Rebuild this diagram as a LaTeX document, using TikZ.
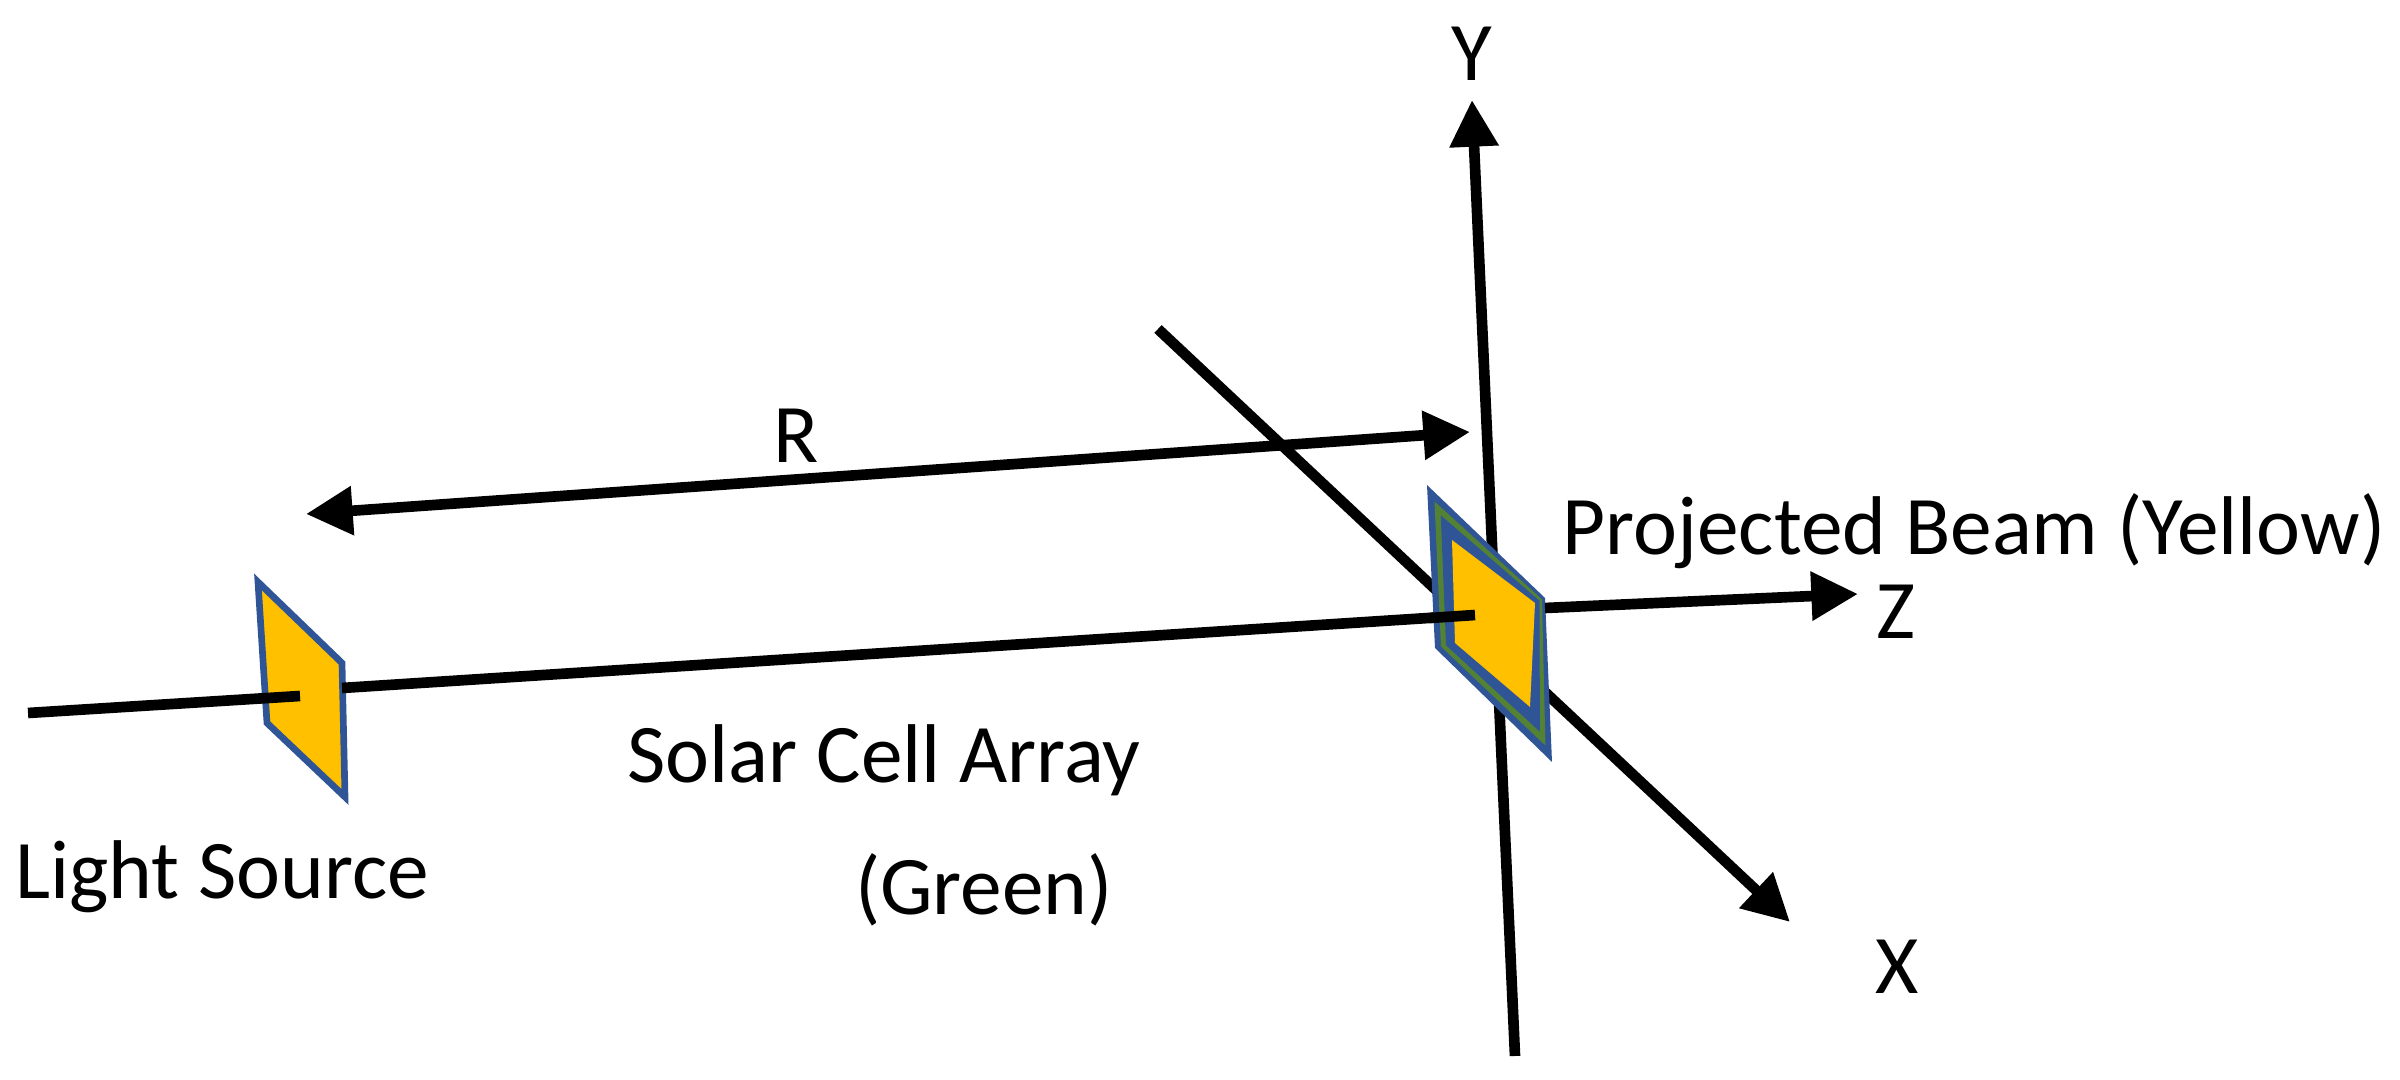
\documentclass[tikz,border=0pt]{standalone}
\usepackage{fontspec}
\setmainfont{Carlito}
\usetikzlibrary{arrows.meta,calc}
\definecolor{pblue}{RGB}{47,85,151}
\definecolor{pgreen}{RGB}{84,130,53}
\definecolor{pyel}{RGB}{255,192,0}
\begin{document}
\begin{tikzpicture}[x=0.3pt,y=-0.3pt,
  axis/.style={line width=3.2pt,black},
  arr/.style={axis,-{Triangle[length=14pt,width=14pt]}},
  lbl/.style={font=\fontsize{25}{30}\selectfont,inner sep=0pt}]
\useasboundingbox (0,0) rectangle (2400,1080);
% Y and X axes (behind panel)
\coordinate (ybot) at (1515,1056);
\coordinate (ytop) at (1472,100);
\coordinate (xs) at (1158,329);
\coordinate (xe) at (1790,922);
\draw[arr] (ybot) -- (ytop);
\draw[arr] (xs) -- (xe);
% R arrow
\coordinate (ra) at (306,514);
\coordinate (rb) at (1470,432);
\draw[axis,{Triangle[length=14pt,width=14pt]}-{Triangle[length=14pt,width=14pt]}] (ra) -- (rb);
% beam line
\coordinate (l0) at (28,713);
\coordinate (lc) at (300,696);
\coordinate (rc) at (1475,615);
\coordinate (ze) at (1858,594);
% left panel
\filldraw[pyel,draw=pblue,line width=2pt] (258,582) -- (342,663) -- (345,797) -- (267,723) -- cycle;
\draw[axis] (l0) -- (lc);
\draw[axis] (342,688) -- (rc);
% right panel
\fill[pblue] (1427,485) -- (1545,598) -- (1552,762) -- (1435,648) -- cycle;
\fill[pgreen] ($(1427,485)!0.3!(1452,540)$) -- ($(1545,598)!0.3!(1535,603)$) -- ($(1552,762)!0.3!(1530,707)$) -- ($(1435,648)!0.3!(1455,643)$) -- cycle;
\fill[pblue] ($(1427,485)!0.55!(1452,540)$) -- ($(1545,598)!0.55!(1535,603)$) -- ($(1552,762)!0.55!(1530,707)$) -- ($(1435,648)!0.55!(1455,643)$) -- cycle;
\fill[pyel] (1452,540) -- (1535,603) -- (1530,707) -- (1455,643) -- cycle;
\draw[axis] (rc) -- (1430,618);
\draw[arr] (1545,608) -- (ze);
% labels
\node[lbl] (ly) at (1472,54) {Y};
\node[lbl] (lr) at (796,436) {R};
\node[lbl] (lp) at (1974,531) {Projected Beam (Yellow)};
\node[lbl] (lz) at (1896,612) {Z};
\node[lbl] (ls) at (884,760) {Solar Cell Array};
\node[lbl] (lg) at (984,890) {(Green)};
\node[lbl] (ll) at (222,877) {Light Source};
\node[lbl] (lx) at (1897,967) {X};
\end{tikzpicture}
\end{document}
